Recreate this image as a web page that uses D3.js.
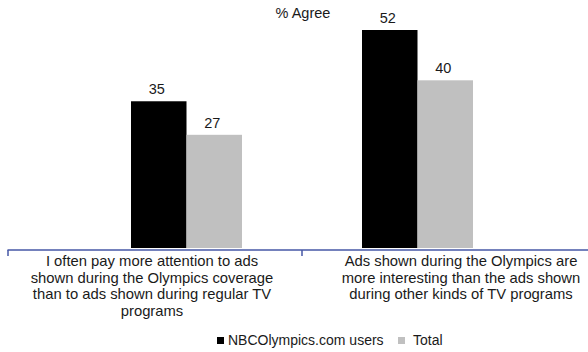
<!DOCTYPE html>
<html>
<head>
<meta charset="utf-8">
<script src="https://cdn.jsdelivr.net/npm/d3@7"></script>
<style>
  html, body { margin: 0; padding: 0; background: #fff; }
  svg { display: block; font-family: "Liberation Sans", Arial, sans-serif; }
</style>
</head>
<body>
<svg id="chart" width="588" height="352"></svg>
<script>
// Survey statements (category labels, wrapped into lines)
const categories = ["attention", "interesting"];
const categoryLines = [
  ["I often pay more attention to ads", "shown during the Olympics coverage", "than to ads shown during regular TV", "programs"],
  ["Ads shown during the Olympics are", "more interesting than the ads shown", "during other kinds of TV programs"]
];
const seriesNames = ["NBCOlympics.com users", "Total"];
const nbcUsers = [35, 52];
const totalAll = [27, 40];
const seriesColors = ["#000000", "#c0c0c0"];

const svg = d3.select("#chart");
const baseY = 248;
const axisY = 250;
const textColor = "#1a1a1a";

// Value scale: 0 at the bottom of the bars
const y = d3.scaleLinear().domain([0, 52]).range([baseY, 30]);

// Bar groups
const x0 = d3.scaleBand().domain(categories).range([71, 533]);
const x1 = d3.scaleBand().domain(seriesNames).range([60, 171]);

const seriesValues = [nbcUsers, totalAll];
const cells = i => seriesNames.map((s, j) => ({ s, j, v: seriesValues[j][i] }));

const groups = svg.selectAll("g.cat")
  .data(categories)
  .join("g")
  .attr("class", "cat")
  .attr("transform", d => `translate(${x0(d)},0)`);

groups.selectAll("rect")
  .data((d, i) => cells(i))
  .join("rect")
  .attr("x", d => x1(d.s))
  .attr("width", x1.bandwidth())
  .attr("y", d => y(d.v))
  .attr("height", d => baseY - y(d.v))
  .attr("fill", d => seriesColors[d.j]);

groups.selectAll("text.val")
  .data((d, i) => cells(i))
  .join("text")
  .attr("class", "val")
  .attr("x", d => x1(d.s) + x1.bandwidth() / 2 - 2)
  .attr("y", d => y(d.v) - 7)
  .attr("text-anchor", "middle")
  .attr("font-size", 14.5)
  .attr("fill", textColor)
  .text(d => d.v);

// Title
svg.append("text")
  .attr("x", 303).attr("y", 18)
  .attr("text-anchor", "middle")
  .attr("font-size", 14.5)
  .attr("fill", textColor)
  .text("% Agree");

// Category axis line with tick marks
const axisColor = "#4657a6";
svg.append("line")
  .attr("x1", 7.5).attr("x2", 588)
  .attr("y1", axisY).attr("y2", axisY)
  .attr("stroke", axisColor).attr("stroke-width", 1.5);
[8, 302].forEach(tx => {
  svg.append("line")
    .attr("x1", tx).attr("x2", tx)
    .attr("y1", axisY).attr("y2", axisY + 6)
    .attr("stroke", axisColor).attr("stroke-width", 1.5);
});

// Category labels
const labelX = d3.scalePoint().domain(categories).range([152, 461]);
categories.forEach((c, i) => {
  const t = svg.append("text")
    .attr("text-anchor", "middle")
    .attr("font-size", 14.8)
    .attr("fill", textColor);
  categoryLines[i].forEach((line, k) => {
    t.append("tspan")
      .attr("x", labelX(c))
      .attr("y", 266 + k * 16.5)
      .text(line);
  });
});

// Legend
const legend = svg.append("g").attr("transform", "translate(217,337)");
const legendX = [0, 181];
seriesNames.forEach((s, j) => {
  const g = legend.append("g").attr("transform", `translate(${legendX[j]},0)`);
  g.append("rect").attr("x", 0).attr("y", 0).attr("width", 7).attr("height", 7).attr("fill", seriesColors[j]);
  g.append("text").attr("x", 11 + (j ? 4 : 0)).attr("y", 8).attr("font-size", 14).attr("fill", textColor).text(s);
});
</script>
</body>
</html>
